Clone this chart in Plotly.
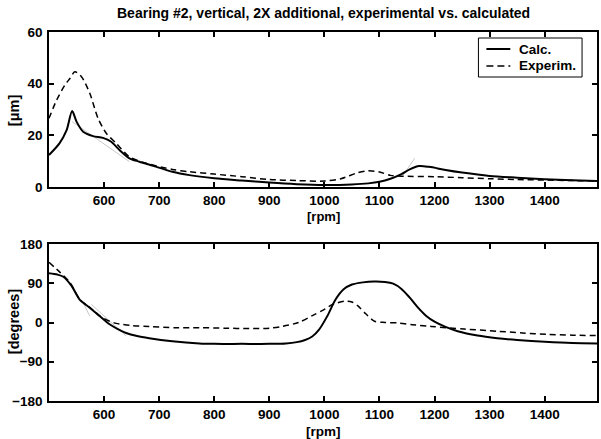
import plotly.graph_objects as go

# ---------------- data ----------------
amp_calc_rpm = [500, 519, 532, 542, 550, 562, 580, 598, 613, 628, 646, 664, 694, 724, 755,
                800, 850, 900, 950, 1000, 1050, 1080, 1100, 1120, 1140, 1155, 1172, 1190,
                1220, 1250, 1300, 1350, 1400, 1450, 1495]
amp_calc = [12.4, 16.9, 22.0, 29.4, 25.3, 21.4, 19.7, 19.0, 17.5, 14.3, 11.1, 9.8, 7.9, 5.9, 4.6,
            3.4, 2.5, 1.7, 1.1, 0.8, 1.0, 1.4, 2.0, 3.2, 5.0, 6.8, 8.1, 7.8,
            6.6, 5.6, 4.3, 3.6, 3.0, 2.6, 2.3]

amp_exp_rpm = [500, 514, 529, 538, 547, 559, 574, 589, 604, 622, 646, 676, 724, 755, 800,
               850, 900, 950, 1000, 1030, 1060, 1080, 1100, 1120, 1140, 1200, 1250, 1300,
               1350, 1400, 1450, 1495]
amp_exp = [26.6, 33.7, 39.5, 42.0, 44.6, 42.7, 36.3, 26.6, 20.8, 16.9, 11.7, 9.2, 6.8, 5.9, 5.0,
           4.0, 2.9, 2.5, 2.3, 3.2, 5.5, 6.3, 5.8, 4.5, 4.2, 4.0, 3.6, 3.2,
           2.9, 2.7, 2.5, 2.3]

ph_calc_rpm = [500, 515, 526, 541, 556, 574, 592, 610, 625, 640, 660, 682, 724, 773, 800, 850,
               900, 930, 950, 965, 978, 990, 1005, 1020, 1035, 1050, 1070, 1090, 1110, 1125,
               1140, 1155, 1170, 1185, 1200, 1220, 1242, 1278, 1314, 1350, 1400, 1450, 1495]
ph_calc = [113, 110, 105, 84, 52, 34, 15, -4, -15, -24, -31, -36, -43, -48, -49, -49,
           -49, -48, -45, -40, -32, -17, 14, 52, 76, 87, 92, 94, 93, 89,
           77, 57, 34, 15, 2, -10, -20, -30, -36, -40, -44, -47, -48]

ph_exp_rpm = [500, 520, 538, 556, 574, 592, 610, 622, 650, 682, 730, 773, 820, 863, 900, 923,
              953, 980, 1000, 1013, 1037, 1050, 1061, 1075, 1091, 1110, 1133, 1160, 1194,
              1254, 1314, 1360, 1404, 1450, 1495]
ph_exp = [138, 115, 92, 53, 35, 15, 3, -2, -7, -9, -12, -12, -13, -14, -13, -9,
          0, 17, 30, 40, 49, 47, 38, 20, 3, 0, -1, -5, -9,
          -15, -20, -24, -27, -29, -30]

# faint grey tangent segments
amp_tan1_rpm, amp_tan1 = [542, 646], [25.3, 9.8]
amp_tan2_rpm, amp_tan2 = [1143, 1164], [4.6, 11.1]
ph_tan1_rpm, ph_tan1 = [562, 574], [45.5, 14.5]
ph_tan2_rpm, ph_tan2 = [577, 640], [41.5, -31]

x_ticks = [600, 700, 800, 900, 1000, 1100, 1200, 1300, 1400]
amp_ticks = [0, 20, 40, 60]
ph_ticks = [-180, -90, 0, 90, 180]
series_names = ["Calc.", "Experim."]

FONT = "Liberation Sans, Arial, sans-serif"
FS = 13.5

fig = go.Figure()
solid = dict(color="black", width=2, shape="spline", smoothing=0.8)
dashed = dict(color="black", width=1.5, dash="6px,4px", shape="spline", smoothing=0.8)
grey = dict(color="#c8c8c8", width=1)

fig.add_trace(go.Scatter(x=amp_tan1_rpm, y=amp_tan1, mode="lines", line=grey,
                         showlegend=False, xaxis="x", yaxis="y"))
fig.add_trace(go.Scatter(x=amp_tan2_rpm, y=amp_tan2, mode="lines", line=grey,
                         showlegend=False, xaxis="x", yaxis="y"))
fig.add_trace(go.Scatter(x=amp_calc_rpm, y=amp_calc, mode="lines", line=solid,
                         name=series_names[0], showlegend=False, xaxis="x", yaxis="y"))
fig.add_trace(go.Scatter(x=amp_exp_rpm, y=amp_exp, mode="lines", line=dashed,
                         name=series_names[1], showlegend=False, xaxis="x", yaxis="y"))

fig.add_trace(go.Scatter(x=ph_tan1_rpm, y=ph_tan1, mode="lines", line=grey,
                         showlegend=False, xaxis="x2", yaxis="y2"))
fig.add_trace(go.Scatter(x=ph_tan2_rpm, y=ph_tan2, mode="lines", line=grey,
                         showlegend=False, xaxis="x2", yaxis="y2"))
fig.add_trace(go.Scatter(x=ph_calc_rpm, y=ph_calc, mode="lines", line=solid,
                         name=series_names[0], showlegend=False, xaxis="x2", yaxis="y2"))
fig.add_trace(go.Scatter(x=ph_exp_rpm, y=ph_exp, mode="lines", line=dashed,
                         name=series_names[1], showlegend=False, xaxis="x2", yaxis="y2"))

W, H = 601, 439
L, R, T, B = 49, 2, 32, 38
pw, ph = W - L - R, H - T - B


def py(p):
    return (H - B - p) / ph


def px(p):
    return (p - L) / pw


tickfont = dict(family=FONT, size=FS, color="black", weight="bold")
axis_common = dict(showline=True, linecolor="black", linewidth=1.5, mirror="ticks",
                   ticks="inside", ticklen=5, tickwidth=1.5, tickcolor="black",
                   showgrid=False, zeroline=False, tickfont=tickfont)


def label(text, x, y, size=FS, angle=0, xanchor="center"):
    return dict(text=text, x=px(x), y=py(y), xref="paper", yref="paper", showarrow=False,
                xanchor=xanchor, yanchor="middle", textangle=angle,
                font=dict(family=FONT, size=size, color="black", weight="bold"))


# manual legend (box, line samples, texts)
shapes = [
    dict(type="rect", xref="paper", yref="paper", x0=px(480), x1=px(584), y0=py(77), y1=py(38),
         line=dict(color="black", width=1), fillcolor="white", layer="above"),
    dict(type="line", xref="paper", yref="paper", x0=px(488), x1=px(512), y0=py(49), y1=py(49),
         line=dict(color="black", width=2), layer="above"),
    dict(type="line", xref="paper", yref="paper", x0=px(488), x1=px(512), y0=py(66), y1=py(66),
         line=dict(color="black", width=1.5, dash="7px,4px"), layer="above"),
]

fig.update_layout(
    width=W, height=H,
    margin=dict(l=L, r=R, t=T, b=B),
    paper_bgcolor="white", plot_bgcolor="white",
    xaxis=dict(domain=[0, 1], anchor="y", range=[500, 1495], tickvals=x_ticks,
               ticklabelstandoff=0, **axis_common),
    yaxis=dict(domain=[py(187), 1], anchor="x", range=[0, 60], tickvals=amp_ticks,
               ticklabelstandoff=2, **axis_common),
    xaxis2=dict(domain=[0, 1], anchor="y2", range=[500, 1495], tickvals=x_ticks,
                ticklabelstandoff=0, **axis_common),
    yaxis2=dict(domain=[0, py(244)], anchor="x2", range=[-180, 180], tickvals=ph_ticks,
                ticklabelstandoff=2, **axis_common),
    showlegend=False,
    shapes=shapes,
    annotations=[
        label("Bearing #2, vertical, 2X additional, experimental vs. calculated", 324, 13, size=14),
        label("[rpm]", 325, 216, size=13),
        label("[rpm]", 325, 431),
        label("[μm]", 14, 110, size=14.5, angle=-90),
        label("[degrees]", 14, 322, size=14.5, angle=-90),
        label(series_names[0], 519, 49, xanchor="left"),
        label(series_names[1], 519, 66, xanchor="left"),
    ],
)

fig.write_html("out.html")
